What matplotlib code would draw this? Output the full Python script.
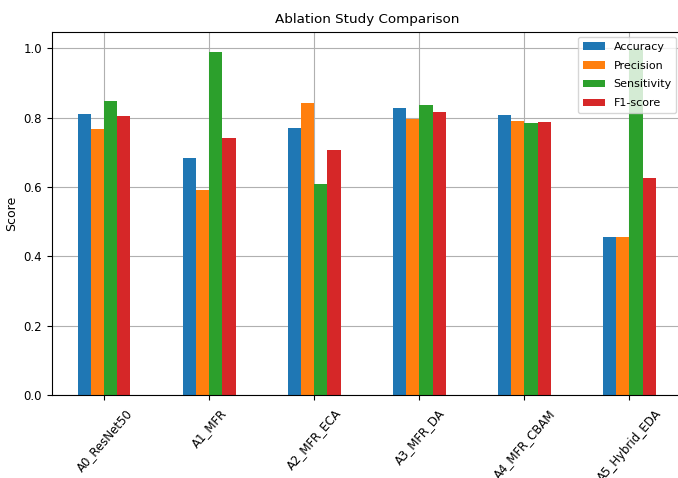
import numpy as np
import matplotlib
matplotlib.use('Agg')
import matplotlib.pyplot as plt

# 消融实验结果
models = ['A0_ResNet50', 'A1_MFR', 'A2_MFR_ECA', 'A3_MFR_DA', 'A4_MFR_CBAM', 'A5_Hybrid_EDA']
accuracy = [0.810, 0.684, 0.771, 0.829, 0.807, 0.455]
precision = [0.766, 0.591, 0.842, 0.796, 0.791, 0.455]
sensitivity = [0.848, 0.989, 0.608, 0.837, 0.785, 0.998]
f1_score = [0.805, 0.741, 0.706, 0.815, 0.788, 0.627]

metrics = {
    'Accuracy': accuracy,
    'Precision': precision,
    'Sensitivity': sensitivity,
    'F1-score': f1_score,
}
colors = ['#1f77b4', '#ff7f0e', '#2ca02c', '#d62728']

fig = plt.figure(figsize=(6.78, 4.78), dpi=100)
ax = fig.add_axes([51.7 / 678, 83 / 478, (682 - 51.7) / 678, (395 - 31.7) / 478])

x = np.arange(len(models))
width = 0.125
for i, (name, vals) in enumerate(metrics.items()):
    ax.bar(x + (i - 1.5) * width, vals, width, label=name, color=colors[i], zorder=2)

ax.set_xticks(x)
ax.set_xticklabels(models, rotation=49, ha='center', fontsize=8.5)
ax.tick_params(axis='x', pad=5)
ax.tick_params(axis='y', labelsize=8.5)
ax.set_xlim(-0.5, 5.5)
ax.set_ylim(0, 1.048)
ax.set_ylabel('Score', fontsize=9)
ax.set_title('Ablation Study Comparison', fontsize=9.7)
ax.grid(True, zorder=0)
ax.set_axisbelow(True)
ax.legend(loc='upper right', fontsize=8, labelspacing=0.8)

plt.savefig('out.png', dpi=100)
plt.close()
